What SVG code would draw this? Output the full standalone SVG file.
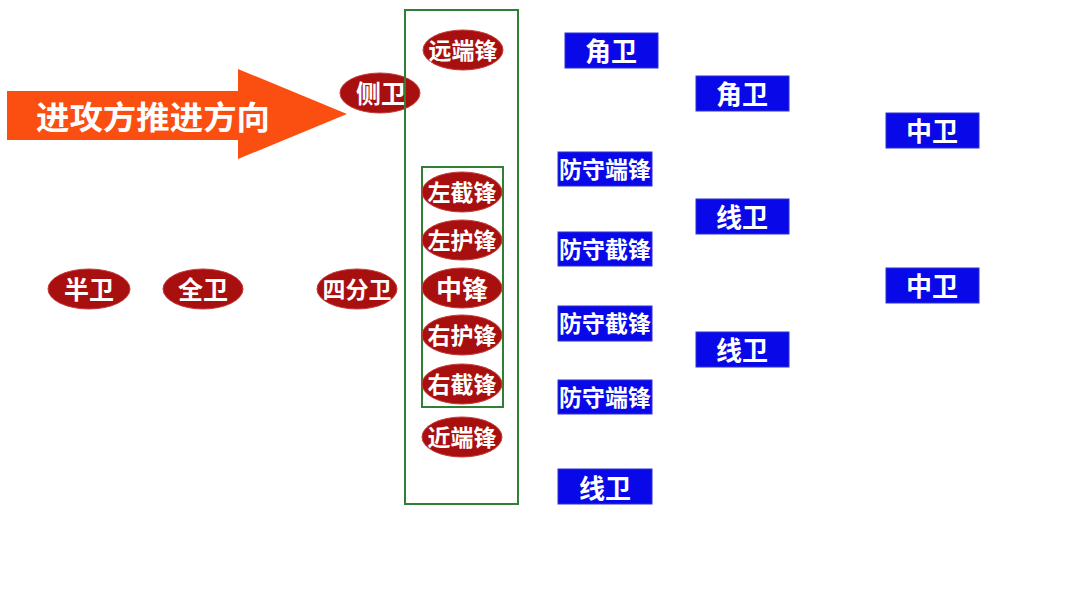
<svg xmlns="http://www.w3.org/2000/svg" width="1080" height="608" viewBox="0 0 1080 608">
<style>
.t{font-family:"Noto Sans CJK SC","Noto Sans",sans-serif;font-weight:bold;fill:#fff;text-anchor:middle;dominant-baseline:central}
.el{fill:#a80f0f;stroke:#c83a3a;stroke-width:1}
.bx{fill:#0808e8;stroke:#3030d0;stroke-width:1}
.gr{fill:none;stroke:#2f7f35;stroke-width:2}
.e{font-size:23px}
.e2{font-size:25px}
.b{font-size:26px}
.b4{font-size:23px}
</style>
<rect width="1080" height="608" fill="#fff"/>
<g id="arrow">
<polygon points="7,91 238,91 238,69 347,114 238,159 238,140 7,140" fill="#fb4f12"/>
<text class="t" x="153" y="115" style="font-size:32px" textLength="234" lengthAdjust="spacingAndGlyphs">进攻方推进方向</text>
</g>
<g id="cewei"><ellipse class="el" cx="380" cy="93" rx="40" ry="20"/><text class="t e2" x="381" y="92">侧卫</text></g>
<g id="frames">
<rect class="gr" x="405" y="10" width="113" height="494"/>
<rect class="gr" x="422" y="167" width="81" height="240"/>
</g>
<g id="yuanduanfeng"><ellipse class="el" cx="463" cy="50" rx="40" ry="20"/><text class="t e" x="463" y="49">远端锋</text></g>
<g id="zuojiefeng"><ellipse class="el" cx="462" cy="192" rx="40" ry="20"/><text class="t e" x="462" y="191">左截锋</text></g>
<g id="zuohufeng"><ellipse class="el" cx="462" cy="240" rx="40" ry="20"/><text class="t e" x="462" y="239">左护锋</text></g>
<g id="zhongfeng"><ellipse class="el" cx="462" cy="288" rx="40" ry="20"/><text class="t e2" x="462" y="287" style="font-size:26px">中锋</text></g>
<g id="youhufeng"><ellipse class="el" cx="462" cy="335" rx="40" ry="20"/><text class="t e" x="462" y="334">右护锋</text></g>
<g id="youjiefeng"><ellipse class="el" cx="462" cy="384" rx="40" ry="20"/><text class="t e" x="462" y="383">右截锋</text></g>
<g id="jinduanfeng"><ellipse class="el" cx="462" cy="437" rx="40" ry="20"/><text class="t e" x="462" y="436">近端锋</text></g>
<g id="banwei"><ellipse class="el" cx="89" cy="289" rx="41" ry="20"/><text class="t e2" x="89" y="288">半卫</text></g>
<g id="quanwei"><ellipse class="el" cx="203" cy="289" rx="40" ry="20"/><text class="t e2" x="203" y="288">全卫</text></g>
<g id="sifenwei"><ellipse class="el" cx="357" cy="289" rx="40" ry="20"/><text class="t e" x="357" y="288">四分卫</text></g>
<g id="jiaowei1"><rect class="bx" x="565" y="33" width="93" height="35"/><text class="t b" x="611" y="49">角卫</text></g>
<g id="fsdf1"><rect class="bx" x="558" y="152" width="94" height="34"/><text class="t b4" x="605" y="168" textLength="92" lengthAdjust="spacingAndGlyphs">防守端锋</text></g>
<g id="fsjf1"><rect class="bx" x="558" y="232" width="94" height="34"/><text class="t b4" x="605" y="248" textLength="92" lengthAdjust="spacingAndGlyphs">防守截锋</text></g>
<g id="fsjf2"><rect class="bx" x="558" y="306" width="94" height="35"/><text class="t b4" x="605" y="322" textLength="92" lengthAdjust="spacingAndGlyphs">防守截锋</text></g>
<g id="fsdf2"><rect class="bx" x="558" y="380" width="94" height="34"/><text class="t b4" x="605" y="396" textLength="92" lengthAdjust="spacingAndGlyphs">防守端锋</text></g>
<g id="xianwei1"><rect class="bx" x="558" y="469" width="94" height="35"/><text class="t b" x="605" y="486">线卫</text></g>
<g id="jiaowei2"><rect class="bx" x="696" y="76" width="93" height="35"/><text class="t b" x="742" y="92">角卫</text></g>
<g id="xianwei2"><rect class="bx" x="696" y="199" width="93" height="35"/><text class="t b" x="742" y="215">线卫</text></g>
<g id="xianwei3"><rect class="bx" x="696" y="332" width="93" height="35"/><text class="t b" x="742" y="348">线卫</text></g>
<g id="zhongwei1"><rect class="bx" x="886" y="113" width="93" height="35"/><text class="t b" x="932" y="129">中卫</text></g>
<g id="zhongwei2"><rect class="bx" x="886" y="268" width="93" height="35"/><text class="t b" x="932" y="284">中卫</text></g>
<g id="connectors"></g>
</svg>
